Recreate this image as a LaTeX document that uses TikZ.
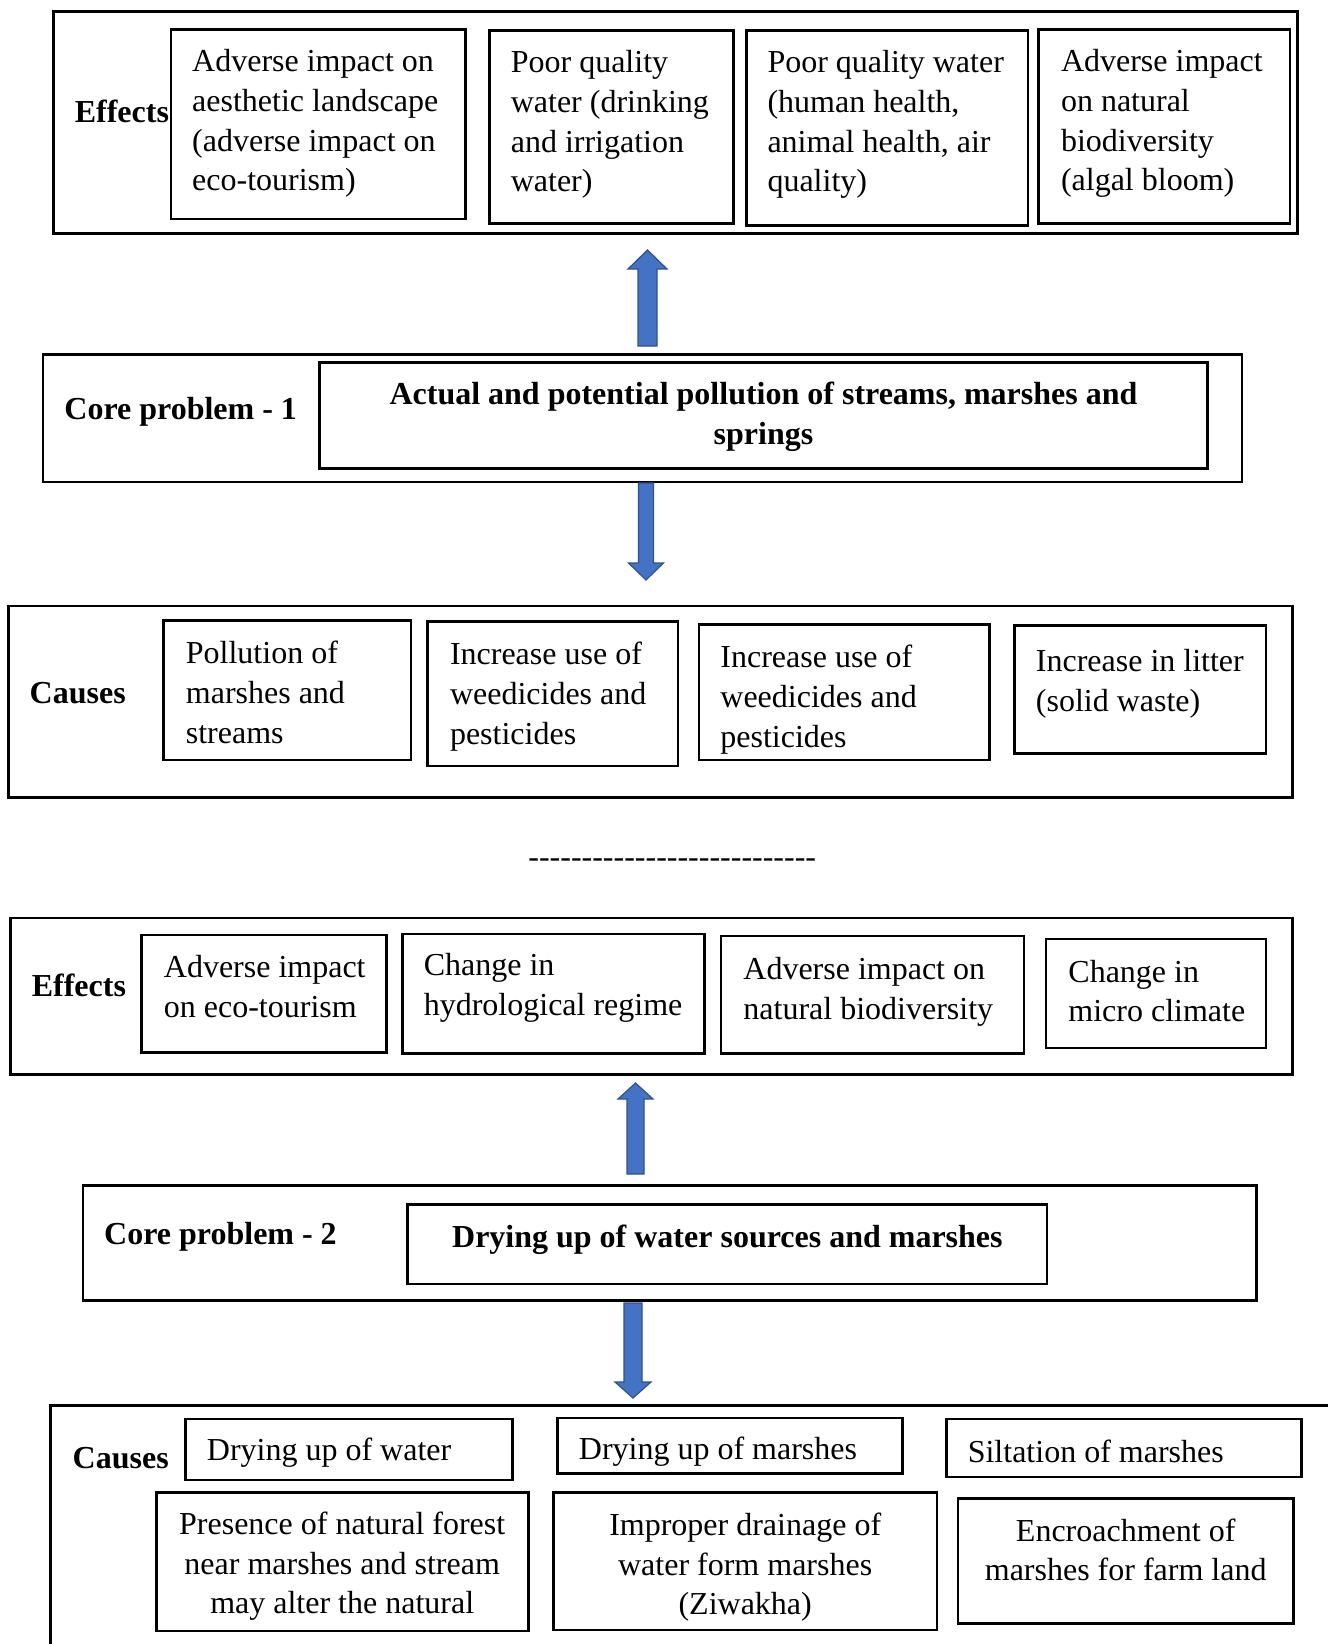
\documentclass[tikz,border=0pt]{standalone}
\usepackage{fontspec}
\setmainfont{Liberation Serif}
\usetikzlibrary{fit}
\definecolor{arrowfill}{HTML}{4472C4}
\definecolor{arrowline}{HTML}{2F528F}
\newcommand{\blkarrow}[6]{%
  \pgfmathsetmacro{\arrdir}{(#3>#2)?1:-1}%
  \draw[blockarrow] (#1,#2) -- ({#1+#5},{#2+#6*\arrdir}) -- ({#1+#4},{#2+#6*\arrdir}) -- ({#1+#4},#3) -- ({#1-#4},#3) -- ({#1-#4},{#2+#6*\arrdir}) -- ({#1-#5},{#2+#6*\arrdir}) -- cycle;}
\begin{document}
\begin{tikzpicture}[x=0.5pt,y=-0.5pt,
  box/.style={draw, line width=1.3pt, inner sep=0pt, rectangle},
  txt/.style={inner sep=0pt, align=left, anchor=base west, yshift=-1.5pt, font=\fontsize{16pt}{19.9pt}\selectfont},
  ctxt/.style={inner sep=0pt, align=center, anchor=base, yshift=-1.5pt, font=\fontsize{16pt}{19.9pt}\selectfont},
  lbl/.style={inner sep=0pt, anchor=base west, yshift=-1.5pt, font=\fontsize{16pt}{19.9pt}\selectfont\bfseries},
  blockarrow/.style={fill=arrowfill, draw=arrowline, line width=0.6pt, line join=miter}]
\useasboundingbox (0,0) rectangle (1328,1644);
\clip (0,0) rectangle (1328,1644);
\fill[white] (0,0) rectangle (1328,1644);

% (text nodes are anchored at the baseline of their last line)

% ---------- Section 1: Effects ----------
\node[box, fit={(53.5,11.5) (1297.5,233.7)}] (eff1) {};
\node[lbl] (eff1l) at (74.4,119.6) {Effects};
\node[box, fit={(170.8,29.3) (465.3,219)}] (b1) {};
\node[box, fit={(489.4,30.4) (733.6,223.2)}] (b2) {};
\node[box, fit={(746.2,30.4) (1028.1,225.3)}] (b3) {};
\node[box, fit={(1038.6,29.3) (1290.1,223.2)}] (b4) {};
\node[txt] (b1t) at (191.8,187.9) {Adverse impact on\\aesthetic landscape\\(adverse impact on\\eco-tourism)};
\node[txt] (b2t) at (510.4,188.9) {Poor quality\\water (drinking\\and irrigation\\water)};
\node[txt] (b3t) at (767.1,188.9) {Poor quality water\\(human health,\\animal health, air\\quality)};
\node[txt] (b4t) at (1060.6,187.9) {Adverse impact\\on natural\\biodiversity\\(algal bloom)};

\blkarrow{647.5}{250}{346}{9.5}{19.5}{19}

% ---------- Core problem 1 ----------
\node[box, fit={(43,354.2) (1242,482)}] (core1) {};
\node[lbl] (core1l) at (64,416.2) {Core problem - 1};
\node[box, fit={(319.7,362.6) (1207.4,468.5)}] (core1in) {};
\node[ctxt, font=\fontsize{16pt}{19.9pt}\selectfont\bfseries] (core1t) at (763.5,441.3) {Actual and potential pollution of streams, marshes and\\springs};

\blkarrow{646}{580}{483}{7.5}{17.5}{17}

% ---------- Causes 1 ----------
\node[box, fit={(8.4,605.8) (1292.3,797.6)}] (cau1) {};
\node[lbl] (cau1l) at (29.3,700.2) {Causes};
\node[box, fit={(163.5,620.4) (410.8,759.8)}] (c1) {};
\node[box, fit={(427.6,621.5) (678.1,766.1)}] (c2) {};
\node[box, fit={(699,624.6) (989.4,759.8)}] (c3) {};
\node[box, fit={(1014.5,625.7) (1266,753.6)}] (c4) {};
\node[txt] (c1t) at (185.5,740) {Pollution of\\marshes and\\streams};
\node[txt] (c2t) at (449.6,741) {Increase use of\\weedicides and\\pesticides};
\node[txt] (c3t) at (720,744.2) {Increase use of\\weedicides and\\pesticides};
\node[txt] (c4t) at (1035.5,708.5) {Increase in litter\\(solid waste)};

% ---------- separator ----------
\node[txt] (sep) at (528,864.7) {-\kern0pt-\kern0pt-\kern0pt-\kern0pt-\kern0pt-\kern0pt-\kern0pt-\kern0pt-\kern0pt-\kern0pt-\kern0pt-\kern0pt-\kern0pt-\kern0pt-\kern0pt-\kern0pt-\kern0pt-\kern0pt-\kern0pt-\kern0pt-\kern0pt-\kern0pt-\kern0pt-\kern0pt-\kern0pt-\kern0pt-};

% ---------- Section 2: Effects ----------
\node[box, fit={(10.5,918) (1292.3,1074.3)}] (eff2) {};
\node[lbl] (eff2l) at (31.4,993.6) {Effects};
\node[box, fit={(141.5,934.9) (386.7,1052.3)}] (e1) {};
\node[box, fit={(402.5,933.9) (704.3,1053.3)}] (e2) {};
\node[box, fit={(721,936) (1024,1053.3)}] (e3) {};
\node[box, fit={(1046,939) (1266,1048)}] (e4) {};
\node[txt] (e1t) at (163.5,1014.6) {Adverse impact\\on eco-tourism};
\node[txt] (e2t) at (423.4,1012.5) {Change in\\hydrological regime};
\node[txt] (e3t) at (743,1016.7) {Adverse impact on\\natural biodiversity};
\node[txt] (e4t) at (1068,1018.8) {Change in\\micro climate};

\blkarrow{635.5}{1083}{1174}{8.5}{17.5}{16}

% ---------- Core problem 2 ----------
\node[box, fit={(82.8,1185.4) (1256.7,1300.7)}] (core2) {};
\node[lbl] (core2l) at (103.8,1241) {Core problem - 2};
\node[box, fit={(407.7,1204.3) (1047,1284)}] (core2in) {};
\node[ctxt, font=\fontsize{16pt}{19.9pt}\selectfont\bfseries] (core2t) at (727.4,1244.1) {Drying up of water sources and marshes};

\blkarrow{633}{1398}{1303}{9}{18}{16}

% ---------- Causes 2 ----------
\node[box, fit={(50.3,1405.5) (1400,1720)}] (cau2) {};
\node[lbl] (cau2l) at (72.3,1465.2) {Causes};
\node[box, fit={(185.5,1419) (512.5,1480)}] (d1) {};
\node[box, fit={(557.6,1418) (902.4,1473.6)}] (d2) {};
\node[box, fit={(946.4,1419) (1301.7,1476.8)}] (d3) {};
\node[txt] (d1t) at (206.5,1457.9) {Drying up of water};
\node[txt] (d2t) at (578.5,1456.8) {Drying up of marshes};
\node[txt] (d3t) at (967.4,1459) {Siltation of marshes};
\node[box, fit={(156.2,1492.5) (528.2,1630.8)}] (p1) {};
\node[box, fit={(553.4,1492.5) (937,1629.8)}] (p2) {};
\node[box, fit={(958,1498.7) (1293.3,1623.5)}] (p3) {};
\node[ctxt] (p1t) at (342.2,1610.8) {Presence of natural forest\\near marshes and stream\\may alter the natural};
\node[ctxt] (p2t) at (745.2,1611.9) {Improper drainage of\\water form marshes\\(Ziwakha)};
\node[ctxt, font=\fontsize{16pt}{19.4pt}\selectfont] (p3t) at (1125.7,1577.4) {Encroachment of\\marshes for farm land};
\end{tikzpicture}
\end{document}
